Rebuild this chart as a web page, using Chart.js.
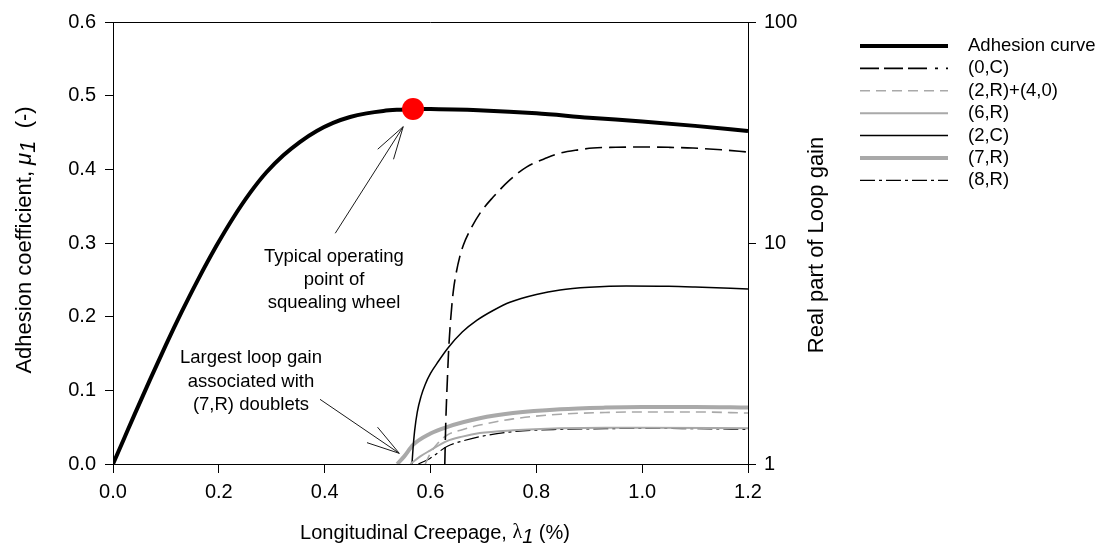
<!DOCTYPE html>
<html>
<head>
<meta charset="utf-8">
<title>Adhesion curve and loop gain</title>
<script src="https://cdn.jsdelivr.net/npm/chart.js"></script>
<style>
  html, body { margin: 0; padding: 0; background: #fff; }
  #wrap { width: 1101px; height: 554px; }
</style>
</head>
<body>
<div id="wrap"><canvas id="squealChart" width="1101" height="554"></canvas></div>
<script>
// adhesion curve, left axis (mu)
const adhesionCreep = [0, 0.02, 0.04, 0.07, 0.10, 0.13, 0.16, 0.196, 0.227, 0.259, 0.29, 0.322, 0.353, 0.385, 0.416, 0.448, 0.479, 0.511, 0.542, 0.567, 0.6, 0.7, 0.8, 0.9, 1.0, 1.1, 1.2];
const adhesionMu = [0, 0.033, 0.066, 0.1146, 0.1617, 0.2067, 0.2493, 0.2968, 0.334, 0.368, 0.396, 0.419, 0.437, 0.452, 0.463, 0.471, 0.476, 0.4793, 0.481, 0.482, 0.4818, 0.480, 0.476, 0.470, 0.465, 0.459, 0.452];

// typical operating point of the squealing wheel
const opCreep = [0.567];
const opMu = [0.482];

// loop gains, right axis (log)
const creepOC = [0.627, 0.629, 0.632, 0.634, 0.637, 0.643, 0.649, 0.655, 0.662, 0.675, 0.695, 0.718, 0.75, 0.782, 0.82, 0.845, 0.88, 0.907, 0.95, 1.0, 1.05, 1.096, 1.15, 1.2];
const gainOC = [1.0, 1.58, 2.45, 3.17, 4.17, 6.03, 7.41, 8.61, 9.77, 11.45, 13.8, 16.1, 19.3, 22.1, 24.3, 25.5, 26.4, 26.9, 27.1, 27.2, 27.1, 26.9, 26.4, 25.8];

const creep2R4 = [0.59, 0.60, 0.615, 0.631, 0.66, 0.693, 0.756, 0.845, 0.93, 1.0, 1.1, 1.2];
const gain2R4 = [1.0, 1.12, 1.25, 1.35, 1.43, 1.50, 1.60, 1.68, 1.71, 1.72, 1.72, 1.70];

const creep6R = [0.562, 0.58, 0.599, 0.631, 0.66, 0.693, 0.756, 0.845, 0.93, 1.0, 1.2];
const gain6R = [1.0, 1.08, 1.15, 1.27, 1.33, 1.38, 1.42, 1.45, 1.46, 1.46, 1.45];

const creep2C = [0.565, 0.567, 0.570, 0.575, 0.582, 0.59, 0.60, 0.615, 0.633, 0.66, 0.688, 0.72, 0.75, 0.8, 0.845, 0.9, 0.97, 1.05, 1.1, 1.2];
const gain2C = [1.0, 1.175, 1.413, 1.718, 2.018, 2.291, 2.57, 2.917, 3.35, 3.954, 4.477, 4.977, 5.395, 5.85, 6.13, 6.3, 6.39, 6.37, 6.32, 6.19];

const creep7R = [0.537, 0.55, 0.567, 0.599, 0.631, 0.693, 0.756, 0.845, 0.93, 1.0, 1.1, 1.2];
const gain7R = [1.0, 1.08, 1.22, 1.37, 1.47, 1.61, 1.70, 1.77, 1.80, 1.81, 1.81, 1.80];

const creep8R = [0.577, 0.599, 0.631, 0.66, 0.693, 0.756, 0.845, 0.93, 1.0, 1.1, 1.2];
const gain8R = [1.0, 1.06, 1.20, 1.27, 1.33, 1.40, 1.435, 1.445, 1.45, 1.445, 1.435];

// tick labels
const creepTicks = [0, 0.2, 0.4, 0.6, 0.8, 1.0, 1.2];
const muTicks = [0, 0.1, 0.2, 0.3, 0.4, 0.5, 0.6];
const gainTicks = [1, 10, 100];

const FONT = '"Liberation Sans", Arial, sans-serif';
const GREY = '#a9a9a9';

const pts = (xs, ys) => xs.map((x, i) => ({ x: x, y: ys[i] }));

// annotations (anchored in data units of x / left axis)
const notes = [
  { lines: ['Typical operating', 'point of', 'squealing wheel'], x: 0.4176, y: [0.2814, 0.2505, 0.2186],
    from: [0.42, 0.3132], to: [0.5484, 0.4579] },
  { lines: ['Largest loop gain', 'associated with', '(7,R) doublets'], x: 0.2608, y: [0.1435, 0.1117, 0.0801],
    from: [0.3912, 0.0878], to: [0.5410, 0.0145] }
];

function drawRich(ctx, parts, cx, cy, angle) {
  ctx.save();
  ctx.translate(cx, cy);
  ctx.rotate(angle);
  let total = 0;
  parts.forEach(p => { ctx.font = p.font; p.w = ctx.measureText(p.text).width; total += p.w; });
  let pos = -total / 2;
  ctx.textBaseline = 'middle';
  ctx.textAlign = 'left';
  ctx.fillStyle = '#000';
  parts.forEach(p => { ctx.font = p.font; ctx.fillText(p.text, pos, p.dy || 0); pos += p.w; });
  ctx.restore();
}

function arrow(ctx, x0, y0, x1, y1) {
  const ang = Math.atan2(y0 - y1, x0 - x1);
  const len = 34, spread = 16 * Math.PI / 180;
  ctx.beginPath();
  ctx.moveTo(x0, y0);
  ctx.lineTo(x1, y1);
  ctx.moveTo(x1 + len * Math.cos(ang + spread), y1 + len * Math.sin(ang + spread));
  ctx.lineTo(x1, y1);
  ctx.lineTo(x1 + len * Math.cos(ang - spread), y1 + len * Math.sin(ang - spread));
  ctx.stroke();
}

const decorPlugin = {
  id: 'decor',
  afterDraw(chart) {
    const { ctx, chartArea: a } = chart;
    const x = chart.scales.x, y = chart.scales.y;
    ctx.save();

    // top edge of the frame
    ctx.strokeStyle = '#000';
    ctx.lineWidth = 1;
    ctx.beginPath();
    ctx.moveTo(a.left, a.top + 0.5);
    ctx.lineTo(a.right, a.top + 0.5);
    ctx.stroke();

    // axis titles
    const reg = '20px ' + FONT, ita = 'italic 20px ' + FONT;
    const vreg = '22px ' + FONT, vita = 'italic 22px ' + FONT;
    drawRich(ctx, [
      { text: 'Adhesion coefficient, ', font: vreg },
      { text: 'μ', font: vita },
      { text: '1', font: vita, dy: 4 },
      { text: '  (-)', font: vreg }
    ], 25, (a.top + a.bottom) / 2 - 3, -Math.PI / 2);
    drawRich(ctx, [
      { text: 'Longitudinal Creepage, ', font: reg },
      { text: 'λ', font: '20px "Liberation Serif", "DejaVu Serif", serif' },
      { text: '1', font: ita, dy: 4 },
      { text: ' (%)', font: reg }
    ], 435, 533, 0);
    drawRich(ctx, [{ text: 'Real part of Loop gain', font: vreg }], 817, 245, -Math.PI / 2);

    // annotations
    ctx.fillStyle = '#000';
    ctx.strokeStyle = '#1a1a1a';
    ctx.lineWidth = 1;
    ctx.font = '18.5px ' + FONT;
    ctx.textAlign = 'center';
    ctx.textBaseline = 'middle';
    notes.forEach(n => {
      n.lines.forEach((t, i) => ctx.fillText(t, x.getPixelForValue(n.x), y.getPixelForValue(n.y[i])));
      arrow(ctx, x.getPixelForValue(n.from[0]), y.getPixelForValue(n.from[1]),
        x.getPixelForValue(n.to[0]), y.getPixelForValue(n.to[1]));
    });

    // legend
    let row = 0;
    chart.data.datasets.forEach(ds => {
      if (ds.showLine === false) return;
      const ly = 46 + row * 22.4;
      ctx.strokeStyle = ds.borderColor;
      ctx.lineWidth = ds.borderWidth;
      ctx.setLineDash(ds.legendDash || ds.borderDash || []);
      ctx.beginPath();
      ctx.moveTo(860, ly);
      ctx.lineTo(948, ly);
      ctx.stroke();
      ctx.setLineDash([]);
      ctx.fillStyle = '#000';
      ctx.textAlign = 'left';
      ctx.fillText(ds.label, 968, ly);
      row++;
    });
    ctx.restore();
  }
};

const lineBase = { pointRadius: 0, fill: false, cubicInterpolationMode: 'monotone', borderCapStyle: 'butt' };

const tickFont = { family: FONT, size: 20 };

new Chart(document.getElementById('squealChart'), {
  type: 'line',
  data: {
    datasets: [
      { label: 'Operating point', data: pts(opCreep, opMu), yAxisID: 'y', showLine: false,
        pointRadius: 11, pointBackgroundColor: '#ff0000', pointBorderWidth: 0, borderColor: '#ff0000' },
      { ...lineBase, label: 'Adhesion curve', data: pts(adhesionCreep, adhesionMu), yAxisID: 'y',
        borderColor: '#000', borderWidth: 4 },
      { ...lineBase, label: '(0,C)', data: pts(creepOC, gainOC), yAxisID: 'y1',
        borderColor: '#000', borderWidth: 1.6, borderDash: [17, 7], legendDash: [19, 5, 19, 5, 19, 8, 3, 8] },
      { ...lineBase, label: '(2,R)+(4,0)', data: pts(creep2R4, gain2R4), yAxisID: 'y1',
        borderColor: GREY, borderWidth: 1.6, borderDash: [10, 6] },
      { ...lineBase, label: '(6,R)', data: pts(creep6R, gain6R), yAxisID: 'y1',
        borderColor: GREY, borderWidth: 2 },
      { ...lineBase, label: '(2,C)', data: pts(creep2C, gain2C), yAxisID: 'y1',
        borderColor: '#000', borderWidth: 1.5 },
      { ...lineBase, label: '(7,R)', data: pts(creep7R, gain7R), yAxisID: 'y1',
        borderColor: GREY, borderWidth: 4 },
      { ...lineBase, label: '(8,R)', data: pts(creep8R, gain8R), yAxisID: 'y1',
        borderColor: '#000', borderWidth: 1.2, borderDash: [15, 4, 3, 4] }
    ]
  },
  options: {
    responsive: false,
    animation: false,
    devicePixelRatio: 1,
    layout: { padding: { top: 22, left: 0, right: 0, bottom: 0 } },
    plugins: { legend: { display: false }, tooltip: { enabled: false } },
    scales: {
      x: {
        type: 'linear', min: 0, max: 1.2,
        afterBuildTicks: s => { s.ticks = creepTicks.map(v => ({ value: v })); },
        afterFit: s => { s.height = 90; },
        ticks: { font: tickFont, color: '#000', padding: 7, maxRotation: 0, callback: v => v.toFixed(1) },
        grid: { drawOnChartArea: false, color: '#000', tickLength: 9 },
        border: { color: '#000', width: 1 }
      },
      y: {
        type: 'linear', position: 'left', min: 0, max: 0.6,
        afterBuildTicks: s => { s.ticks = muTicks.map(v => ({ value: v })); },
        afterFit: s => { s.width = 113; },
        ticks: { font: tickFont, color: '#000', padding: 9, callback: v => v.toFixed(1) },
        grid: { drawOnChartArea: false, color: '#000', tickLength: 8 },
        border: { color: '#000', width: 1 }
      },
      y1: {
        type: 'logarithmic', position: 'right', min: 1, max: 100,
        afterBuildTicks: s => { s.ticks = gainTicks.map(v => ({ value: v })); },
        afterFit: s => { s.width = 353; },
        ticks: { font: tickFont, color: '#000', padding: 8, callback: v => String(v) },
        grid: { drawOnChartArea: false, color: '#000', tickLength: 8 },
        border: { color: '#000', width: 1 }
      }
    }
  },
  plugins: [decorPlugin]
});
</script>
</body>
</html>
